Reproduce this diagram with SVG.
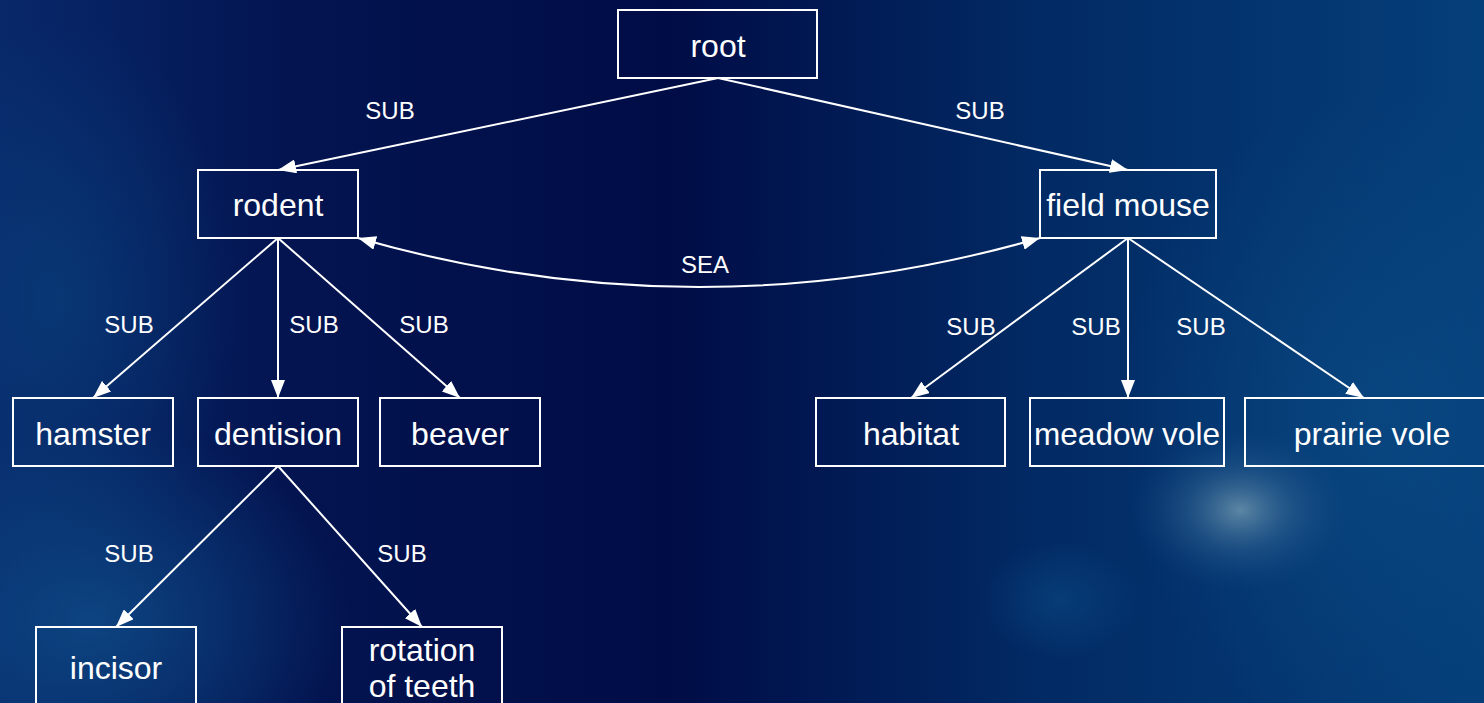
<svg xmlns="http://www.w3.org/2000/svg" width="1484" height="703" viewBox="0 0 1484 703">
  <defs>
    <linearGradient id="bgBase" x1="0" y1="0" x2="1" y2="0">
      <stop offset="0" stop-color="#08286a"/>
      <stop offset="0.2" stop-color="#031450"/>
      <stop offset="0.45" stop-color="#000c46"/>
      <stop offset="0.7" stop-color="#022a64"/>
      <stop offset="1" stop-color="#053f7a"/>
    </linearGradient>
    <radialGradient id="glowLeft" cx="0.5" cy="0.5" r="0.5">
      <stop offset="0" stop-color="#0d4a86" stop-opacity="0.85"/>
      <stop offset="1" stop-color="#0d4a86" stop-opacity="0"/>
    </radialGradient>
    <radialGradient id="glowBright" cx="0.5" cy="0.5" r="0.5">
      <stop offset="0" stop-color="#7aa0b4" stop-opacity="0.75"/>
      <stop offset="0.5" stop-color="#3a6c98" stop-opacity="0.4"/>
      <stop offset="1" stop-color="#1a4e86" stop-opacity="0"/>
    </radialGradient>
    <radialGradient id="glowSoft" cx="0.5" cy="0.5" r="0.5">
      <stop offset="0" stop-color="#0a4a84" stop-opacity="0.7"/>
      <stop offset="1" stop-color="#0a4a84" stop-opacity="0"/>
    </radialGradient>
    <marker id="arrow" markerWidth="18" markerHeight="14" refX="18" refY="7" orient="auto" markerUnits="userSpaceOnUse">
      <path d="M0,0 L18,7 L0,14 Z" fill="#ffffff"/>
    </marker>
    <marker id="arrowStart" markerWidth="18" markerHeight="14" refX="0" refY="7" orient="auto" markerUnits="userSpaceOnUse">
      <path d="M18,0 L0,7 L18,14 Z" fill="#ffffff"/>
    </marker>
    <style>
      .box { fill: none; stroke: #ffffff; stroke-width: 2; }
      .name { fill: #ffffff; font-family: "Liberation Sans", Arial, sans-serif; font-size: 32px; text-anchor: middle; }
      .edge { fill: none; stroke: #ffffff; stroke-width: 2; }
      .lbl { fill: #ffffff; font-family: "Liberation Sans", Arial, sans-serif; font-size: 24px; text-anchor: middle; }
    </style>
  </defs>

  <!-- backdrop -->
  <rect x="0" y="0" width="1484" height="703" fill="url(#bgBase)"/>
  <ellipse cx="90" cy="620" rx="260" ry="200" fill="url(#glowLeft)"/>
  <ellipse cx="60" cy="300" rx="180" ry="280" fill="url(#glowSoft)" opacity="0.7"/>
  <ellipse cx="1380" cy="420" rx="260" ry="330" fill="url(#glowSoft)"/>
  <ellipse cx="1240" cy="510" rx="110" ry="80" fill="url(#glowBright)"/>
  <ellipse cx="1060" cy="600" rx="80" ry="60" fill="url(#glowSoft)" opacity="0.8"/>

  <!-- connectors -->
  <g id="connectors">
    <line class="edge" x1="718" y1="78" x2="278" y2="170" marker-end="url(#arrow)"/>
    <line class="edge" x1="718" y1="78" x2="1128" y2="170" marker-end="url(#arrow)"/>
    <line class="edge" x1="278" y1="238" x2="93" y2="398" marker-end="url(#arrow)"/>
    <line class="edge" x1="278" y1="238" x2="278" y2="398" marker-end="url(#arrow)"/>
    <line class="edge" x1="278" y1="238" x2="460" y2="398" marker-end="url(#arrow)"/>
    <line class="edge" x1="1128" y1="238" x2="911" y2="398" marker-end="url(#arrow)"/>
    <line class="edge" x1="1128" y1="238" x2="1128" y2="398" marker-end="url(#arrow)"/>
    <line class="edge" x1="1128" y1="238" x2="1364" y2="398" marker-end="url(#arrow)"/>
    <line class="edge" x1="278" y1="466" x2="116" y2="627" marker-end="url(#arrow)"/>
    <line class="edge" x1="278" y1="466" x2="422" y2="627" marker-end="url(#arrow)"/>
    <path class="edge" d="M358,238 Q699,336 1040,238" marker-start="url(#arrowStart)" marker-end="url(#arrow)"/>

    <text class="lbl" x="390" y="119">SUB</text>
    <text class="lbl" x="980" y="119">SUB</text>
    <text class="lbl" x="129" y="333">SUB</text>
    <text class="lbl" x="314" y="333">SUB</text>
    <text class="lbl" x="424" y="333">SUB</text>
    <text class="lbl" x="971" y="335">SUB</text>
    <text class="lbl" x="1096" y="335">SUB</text>
    <text class="lbl" x="1201" y="335">SUB</text>
    <text class="lbl" x="129" y="562">SUB</text>
    <text class="lbl" x="402" y="562">SUB</text>
    <text class="lbl" x="705" y="273">SEA</text>
  </g>

  <!-- nodes -->
  <g id="root">
    <rect class="box" x="618" y="10" width="199" height="68"/>
    <text class="name" x="718" y="57">root</text>
  </g>
  <g id="rodent">
    <rect class="box" x="198" y="170" width="160" height="68"/>
    <text class="name" x="278" y="216">rodent</text>
  </g>
  <g id="field-mouse">
    <rect class="box" x="1040" y="170" width="176" height="68"/>
    <text class="name" x="1128" y="216">field mouse</text>
  </g>
  <g id="hamster">
    <rect class="box" x="13" y="398" width="160" height="68"/>
    <text class="name" x="93" y="445">hamster</text>
  </g>
  <g id="dentision">
    <rect class="box" x="198" y="398" width="160" height="68"/>
    <text class="name" x="278" y="445">dentision</text>
  </g>
  <g id="beaver">
    <rect class="box" x="380" y="398" width="160" height="68"/>
    <text class="name" x="460" y="445">beaver</text>
  </g>
  <g id="habitat">
    <rect class="box" x="816" y="398" width="189" height="68"/>
    <text class="name" x="911" y="445">habitat</text>
  </g>
  <g id="meadow-vole">
    <rect class="box" x="1030" y="398" width="194" height="68"/>
    <text class="name" x="1127" y="445" textLength="186" lengthAdjust="spacingAndGlyphs">meadow vole</text>
  </g>
  <g id="prairie-vole">
    <rect class="box" x="1245" y="398" width="254" height="68"/>
    <text class="name" x="1372" y="445">prairie vole</text>
  </g>
  <g id="incisor">
    <rect class="box" x="36" y="627" width="160" height="90"/>
    <text class="name" x="116" y="679">incisor</text>
  </g>
  <g id="rotation-of-teeth">
    <rect class="box" x="342" y="627" width="160" height="90"/>
    <text class="name" x="422" y="661">rotation</text>
    <text class="name" x="422" y="697">of teeth</text>
  </g>
</svg>
